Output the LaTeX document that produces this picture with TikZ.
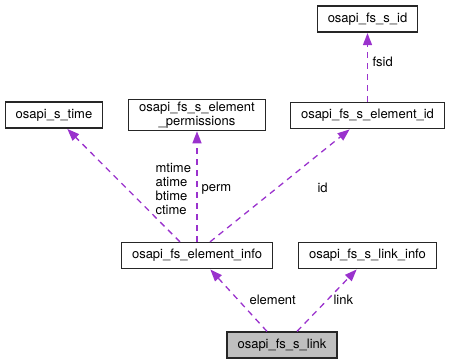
\documentclass[tikz,border=0pt]{standalone}
\usepackage{fontspec}
\setmainfont{TeX Gyre Heros}
\usetikzlibrary{arrows.meta}

\definecolor{relcol}{HTML}{9A32CD}

\begin{document}
\begin{tikzpicture}[x = 1pt, y = -1pt, line width = 1.2pt,
                        font = \fontsize{13}{14}\selectfont,
                        cls/.style = {draw = black!85, fill = white, inner xsep = 10.5pt, inner ysep = 2pt,
                                      minimum height = 26pt, align = center},
                        self/.style = {cls, fill = black!25},
                        rel/.style = {draw = relcol, line width = 1.3pt, dash pattern = on 6pt off 5pt,
                                      -{Triangle[length = 12pt, width = 9pt]}, shorten >= 0.5pt},
                        lab/.style = {inner sep = 0pt, anchor = west, align = left}]
      \useasboundingbox (0, 0) rectangle (451, 364);
      \node [cls] (sid) at (367.5, 19) {osapi\_fs\_s\_id};
      \node [cls] (eid) at (367.5, 115.5) {osapi\_fs\_s\_element\_id};
      \node [cls] (perm) at (197, 115) {osapi\_fs\_s\_element\\\_permissions};
      \node [cls] (stime) at (54, 115) {osapi\_s\_time};
      \node [cls] (einfo) at (197, 255.5) {osapi\_fs\_element\_info};
      \node [cls] (linfo) at (367.5, 255.5) {osapi\_fs\_s\_link\_info};
      \node [self] (link) at (282, 345) {osapi\_fs\_s\_link};
      \draw [rel] (eid) -- (sid);
      \draw [rel] (einfo) -- (perm);
      \draw [rel] ([xshift = 13pt]einfo.north) -- ([xshift = -17.5pt]eid.south);
      \draw [rel] ([xshift = -17pt]einfo.north) -- ([xshift = 13pt]stime.south);
      \draw [rel] ([xshift = -15pt]link.north) -- ([xshift = 13pt]einfo.south);
      \draw [rel] ([xshift = 15pt]link.north) -- ([xshift = -10.5pt]linfo.south);
      \node [lab] (fsid) at (372, 62) {fsid};
      \node [lab] (id) at (317, 188) {id};
      \node [lab] (permlab) at (201, 189) {perm};
      \node [lab] (times) at (155, 189) {mtime\\atime\\btime\\ctime};
      \node [lab] (element) at (249, 300) {element};
      \node [lab] (linklab) at (333, 300) {link};
    \end{tikzpicture}
\end{document}
